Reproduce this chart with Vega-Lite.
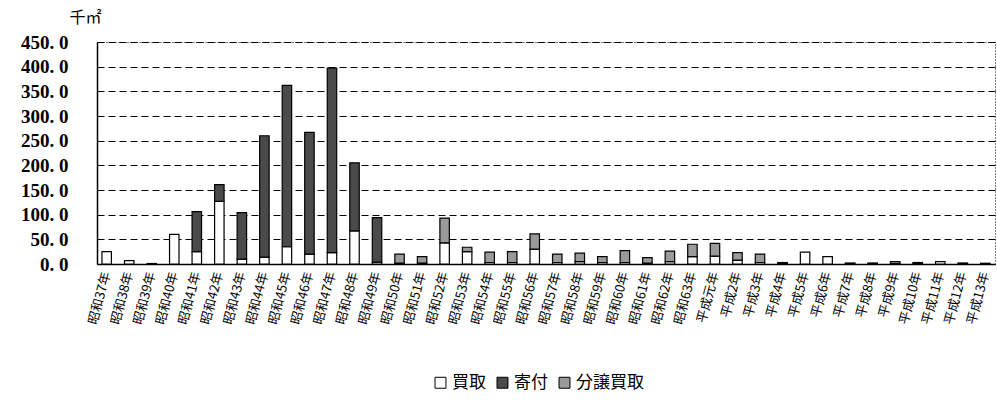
{
  "$schema": "https://vega.github.io/schema/vega-lite/v6.json",
  "width": 898,
  "height": 222,
  "autosize": {"type": "none"},
  "padding": {"left": 97, "top": 42, "right": 2, "bottom": 145},
  "background": "white",
  "config": {
    "view": {"stroke": "black", "strokeDash": [1, 2], "strokeWidth": 1},
    "font": "Noto Sans CJK JP"
  },
  "data": {
    "values": [
      {"year": "昭和37年", "type": "買取", "value": 25},
      {"year": "昭和38年", "type": "買取", "value": 7},
      {"year": "昭和39年", "type": "買取", "value": 1},
      {"year": "昭和40年", "type": "買取", "value": 60},
      {"year": "昭和41年", "type": "買取", "value": 25},
      {"year": "昭和41年", "type": "寄付", "value": 81},
      {"year": "昭和42年", "type": "買取", "value": 127},
      {"year": "昭和42年", "type": "寄付", "value": 34},
      {"year": "昭和43年", "type": "買取", "value": 10},
      {"year": "昭和43年", "type": "寄付", "value": 94},
      {"year": "昭和44年", "type": "買取", "value": 14},
      {"year": "昭和44年", "type": "寄付", "value": 246},
      {"year": "昭和45年", "type": "買取", "value": 35},
      {"year": "昭和45年", "type": "寄付", "value": 327},
      {"year": "昭和46年", "type": "買取", "value": 20},
      {"year": "昭和46年", "type": "寄付", "value": 247},
      {"year": "昭和47年", "type": "買取", "value": 23},
      {"year": "昭和47年", "type": "寄付", "value": 374},
      {"year": "昭和48年", "type": "買取", "value": 67},
      {"year": "昭和48年", "type": "寄付", "value": 138},
      {"year": "昭和49年", "type": "買取", "value": 4},
      {"year": "昭和49年", "type": "寄付", "value": 90},
      {"year": "昭和50年", "type": "買取", "value": 2},
      {"year": "昭和50年", "type": "分譲買取", "value": 18},
      {"year": "昭和51年", "type": "買取", "value": 2},
      {"year": "昭和51年", "type": "分譲買取", "value": 13},
      {"year": "昭和52年", "type": "買取", "value": 43},
      {"year": "昭和52年", "type": "分譲買取", "value": 50},
      {"year": "昭和53年", "type": "買取", "value": 25},
      {"year": "昭和53年", "type": "分譲買取", "value": 9},
      {"year": "昭和54年", "type": "買取", "value": 3},
      {"year": "昭和54年", "type": "分譲買取", "value": 21},
      {"year": "昭和55年", "type": "買取", "value": 3},
      {"year": "昭和55年", "type": "分譲買取", "value": 22},
      {"year": "昭和56年", "type": "買取", "value": 30},
      {"year": "昭和56年", "type": "分譲買取", "value": 31},
      {"year": "昭和57年", "type": "買取", "value": 3},
      {"year": "昭和57年", "type": "分譲買取", "value": 17},
      {"year": "昭和58年", "type": "買取", "value": 5},
      {"year": "昭和58年", "type": "分譲買取", "value": 17},
      {"year": "昭和59年", "type": "買取", "value": 3},
      {"year": "昭和59年", "type": "分譲買取", "value": 12},
      {"year": "昭和60年", "type": "買取", "value": 3},
      {"year": "昭和60年", "type": "分譲買取", "value": 24},
      {"year": "昭和61年", "type": "買取", "value": 2},
      {"year": "昭和61年", "type": "分譲買取", "value": 11},
      {"year": "昭和62年", "type": "買取", "value": 5},
      {"year": "昭和62年", "type": "分譲買取", "value": 21},
      {"year": "昭和63年", "type": "買取", "value": 15},
      {"year": "昭和63年", "type": "分譲買取", "value": 25},
      {"year": "平成元年", "type": "買取", "value": 16},
      {"year": "平成元年", "type": "分譲買取", "value": 26},
      {"year": "平成2年", "type": "買取", "value": 8},
      {"year": "平成2年", "type": "分譲買取", "value": 15},
      {"year": "平成3年", "type": "買取", "value": 3},
      {"year": "平成3年", "type": "分譲買取", "value": 17},
      {"year": "平成4年", "type": "買取", "value": 1},
      {"year": "平成4年", "type": "分譲買取", "value": 2},
      {"year": "平成5年", "type": "買取", "value": 24},
      {"year": "平成6年", "type": "買取", "value": 15},
      {"year": "平成7年", "type": "買取", "value": 1},
      {"year": "平成7年", "type": "分譲買取", "value": 1},
      {"year": "平成8年", "type": "買取", "value": 1},
      {"year": "平成8年", "type": "分譲買取", "value": 1},
      {"year": "平成9年", "type": "買取", "value": 1},
      {"year": "平成9年", "type": "分譲買取", "value": 4},
      {"year": "平成10年", "type": "買取", "value": 1},
      {"year": "平成10年", "type": "分譲買取", "value": 2},
      {"year": "平成11年", "type": "買取", "value": 5},
      {"year": "平成12年", "type": "買取", "value": 1},
      {"year": "平成12年", "type": "分譲買取", "value": 1},
      {"year": "平成13年", "type": "買取", "value": 1.5}
    ]
  },
  "transform": [
    {"calculate": "indexof(['買取','寄付','分譲買取'], datum.type)", "as": "stackOrder"}
  ],
  "mark": {"type": "bar", "stroke": "black", "strokeWidth": 1.2},
  "encoding": {
    "x": {
      "field": "year",
      "type": "nominal",
      "sort": null,
      "scale": {"paddingInner": 0.58, "paddingOuter": 0.22},
      "axis": {
        "title": null,
        "labelAngle": -75,
        "labelFontSize": 13,
        "labelColor": "black",
        "labelPadding": 8,
        "ticks": false,
        "domainColor": "black",
        "domainWidth": 1.5
      }
    },
    "y": {
      "field": "value",
      "type": "quantitative",
      "stack": "zero",
      "scale": {"domain": [0, 450], "nice": false},
      "axis": {
        "values": [0, 50, 100, 150, 200, 250, 300, 350, 400, 450],
        "labelExpr": "replace(format(datum.value, '.1f'), '.', '. ')",
        "labelFont": "Liberation Serif",
        "labelFontWeight": "bold",
        "labelFontSize": 19,
        "labelColor": "black",
        "labelPadding": 29,
        "ticks": false,
        "domainColor": "black",
        "domainWidth": 1.5,
        "grid": true,
        "gridColor": "black",
        "gridDash": [7, 4],
        "gridWidth": 1,
        "title": "千㎡",
        "titleAngle": 0,
        "titleX": -28,
        "titleY": -25,
        "titleAlign": "left",
        "titleBaseline": "middle",
        "titleFont": "Noto Sans CJK JP",
        "titleFontSize": 16,
        "titleFontWeight": "normal",
        "titleColor": "black"
      }
    },
    "color": {
      "field": "type",
      "type": "nominal",
      "sort": ["買取", "寄付", "分譲買取"],
      "scale": {"domain": ["買取", "寄付", "分譲買取"], "range": ["#ffffff", "#4a4a4a", "#9a9a9a"]},
      "legend": {
        "title": null,
        "orient": "none",
        "direction": "horizontal",
        "legendX": 335,
        "legendY": 332,
        "symbolType": "square",
        "symbolSize": 120,
        "symbolStrokeColor": "black",
        "symbolStrokeWidth": 1,
        "labelFontSize": 17,
        "labelColor": "black",
        "labelOffset": 3,
        "columnPadding": 8
      }
    },
    "order": {"field": "stackOrder", "type": "quantitative"}
  }
}
